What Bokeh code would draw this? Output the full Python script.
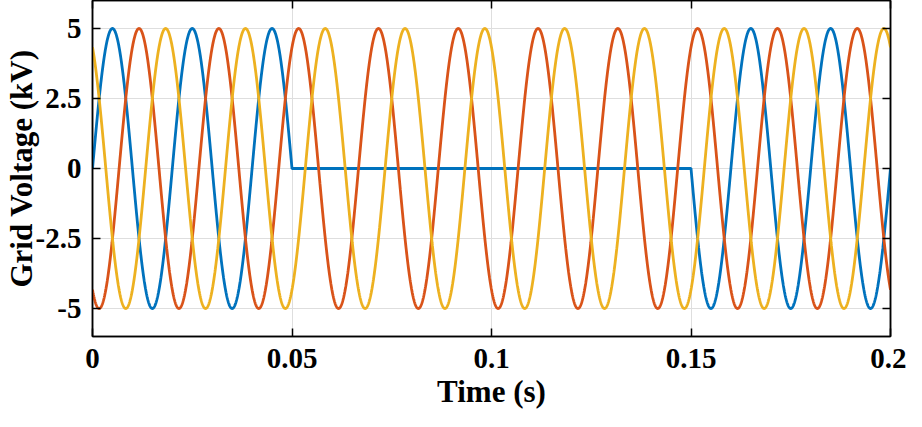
import numpy as np
from bokeh.plotting import figure
from bokeh.models import LinearAxis, FixedTicker
from bokeh.embed import file_html
from bokeh.resources import INLINE

# ---- data ----
T_START_S = 0.0
T_END_S = 0.2
SAMPLES = 4001
AMPLITUDE_KV = 5.0
FREQ_HZ = 50.0
PHASE_NAMES = ["A", "B", "C"]
PHASE_SHIFT_DEG = [0.0, -120.0, 120.0]
PHASE_COLORS = ["#0072BD", "#D95319", "#EDB120"]
FAULT_PHASE = "A"
FAULT_START_S = 0.05
FAULT_END_S = 0.15

X_TICKS = [0.0, 0.05, 0.1, 0.15, 0.2]
X_TICK_LABELS = ["0", "0.05", "0.1", "0.15", "0.2"]
Y_TICKS = [-5.0, -2.5, 0.0, 2.5, 5.0]
Y_TICK_LABELS = ["-5", "-2.5", "0", "2.5", "5"]

FONT = "Liberation Serif"
TICK_FS = "29px"
LABEL_FS = "31px"

t = np.linspace(T_START_S, T_END_S, SAMPLES)

p = figure(width=906, height=411, x_range=(0, 0.2), y_range=(-6, 6),
           output_backend="svg", toolbar_location=None,
           min_border_left=0, min_border_right=16, min_border_top=0,
           min_border_bottom=0)
p.background_fill_color = "white"
p.border_fill_color = "white"
p.outline_line_color = "black"
p.outline_line_width = 1.5

for name, shift, color in zip(PHASE_NAMES, PHASE_SHIFT_DEG, PHASE_COLORS):
    v = AMPLITUDE_KV * np.sin(2 * np.pi * FREQ_HZ * t + np.deg2rad(shift))
    if name == FAULT_PHASE:
        v = np.where((t >= FAULT_START_S) & (t <= FAULT_END_S), 0.0, v)
    p.line(t, v, line_color=color, line_width=2.8)

xt = FixedTicker(ticks=X_TICKS)
yt = FixedTicker(ticks=Y_TICKS)

p.xaxis.ticker = xt
p.yaxis.ticker = yt
p.xaxis.major_label_overrides = dict(zip(X_TICKS, X_TICK_LABELS))
p.yaxis.major_label_overrides = dict(zip(Y_TICKS, Y_TICK_LABELS))

p.xgrid.ticker = xt
p.ygrid.ticker = yt
for g in (p.xgrid, p.ygrid):
    g.grid_line_color = "#dedede"
    g.grid_line_width = 1

for ax in (p.xaxis[0], p.yaxis[0]):
    ax.axis_line_width = 1.5
    ax.major_tick_line_width = 1.5
    ax.major_tick_in = 8
    ax.major_tick_out = 0
    ax.minor_tick_line_color = None
    ax.major_label_text_font = FONT
    ax.major_label_text_font_style = "bold"
    ax.major_label_text_font_size = TICK_FS
    ax.major_label_text_color = "black"
    ax.axis_label_text_font = FONT
    ax.axis_label_text_font_style = "bold"
    ax.axis_label_text_font_size = LABEL_FS
    ax.axis_label_text_color = "black"

p.xaxis.axis_label = "Time (s)"
p.yaxis.axis_label = "Grid Voltage (kV)"
p.xaxis.major_label_standoff = 12
p.xaxis.axis_label_standoff = 3
p.yaxis.major_label_standoff = 11
p.yaxis.axis_label_standoff = -6

for loc, tk in (("above", xt), ("right", yt)):
    ax = LinearAxis(ticker=tk)
    ax.major_label_overrides = {v: "" for v in tk.ticks}
    ax.major_label_text_font_size = "0px"
    ax.major_label_standoff = 0
    ax.axis_line_width = 1.5
    ax.major_tick_line_width = 1.5
    ax.major_tick_in = 8
    ax.major_tick_out = 0
    ax.minor_tick_line_color = None
    p.add_layout(ax, loc)

open("out.html", "w").write(file_html(p, INLINE))
